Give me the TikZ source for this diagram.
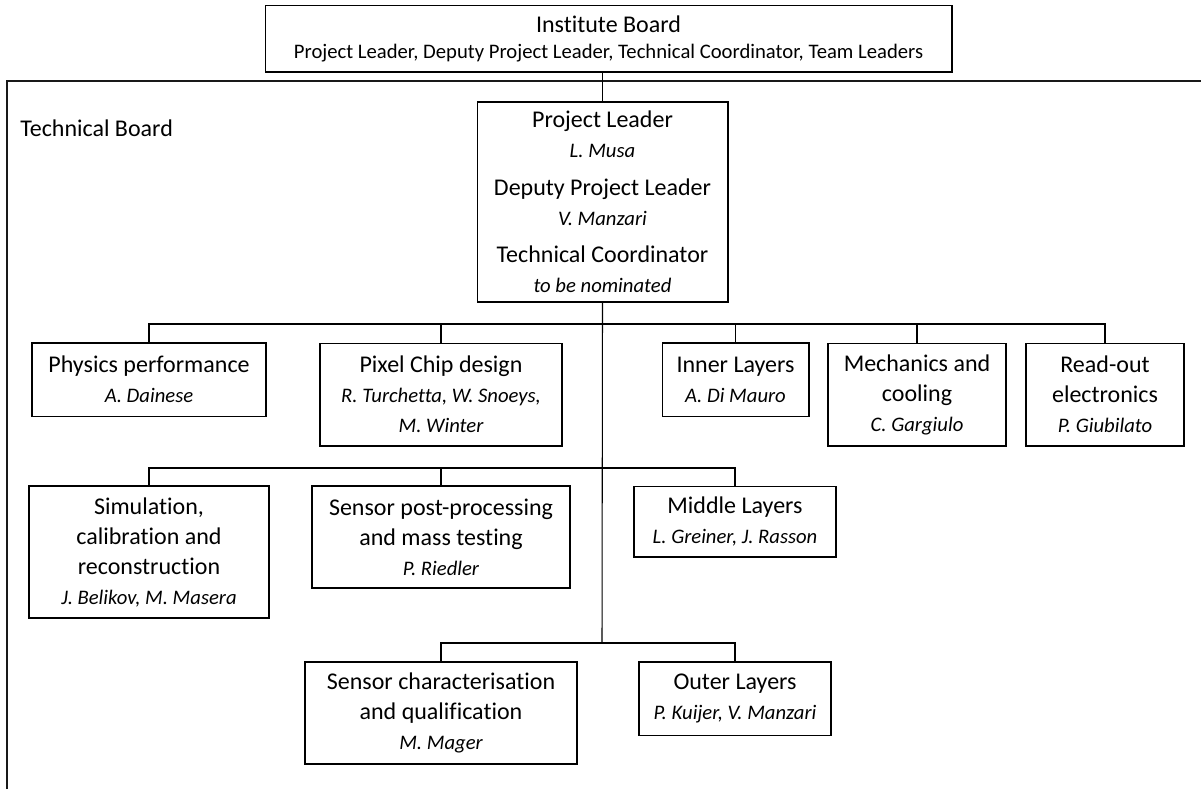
\documentclass[tikz,border=0pt]{standalone}
\usepackage{fontspec}
\setmainfont{Carlito}[Ligatures=NoCommon]
\usepackage{tikz}
\usetikzlibrary{positioning}

\newcommand{\member}[1]{{\fontsize{15.5}{22.5}\selectfont\itshape #1}}

\begin{document}
\begin{tikzpicture}[
  x=0.75pt, y=-0.75pt,
  unit/.style={draw,line width=1pt,inner sep=0pt,align=center,font=\fontsize{18}{22.5}\selectfont},
  link/.style={line width=0.8pt},
  frame/.style={line width=1.5pt,black!90}
]
  \useasboundingbox (0,0) rectangle (1201,789);

  \node[unit,minimum width=515pt,minimum height=50pt] (ib) at (608.5,38.5)
    {Institute Board\\[-3pt]{\fontsize{15.5}{19.5}\selectfont Project Leader, Deputy Project Leader, Technical Coordinator, Team Leaders}};
  \draw[frame] (6.5,789) -- (6.5,80.5) -- (1201,80.5);
  \node[anchor=west,inner sep=0pt,font=\fontsize{18}{22.5}\selectfont] (tb) at (20,128) {Technical Board};

  \node[unit,minimum width=188pt,minimum height=150pt] (pl) at (602.5,202)
    {Project Leader\\\member{L. Musa}\\[5.5pt]Deputy Project Leader\\\member{V. Manzari}\\[5.5pt]Technical Coordinator\\\member{to be nominated}};

  \node[unit,minimum width=175.5pt,minimum height=55pt] (phys) at (149,379.5) {Physics performance\\\member{A. Dainese}};
  \node[unit,minimum width=181.5pt,minimum height=77pt] (pix) at (441,394.5) {Pixel Chip design\\\member{R. Turchetta, W. Snoeys,}\\\member{M. Winter}};
  \node[unit,minimum width=110pt,minimum height=55pt] (inner) at (735.5,379.5) {Inner Layers\\\member{A. Di Mauro}};
  \node[unit,minimum width=133.5pt,minimum height=77pt] (mech) at (917,394.5) {Mechanics and\\cooling\\\member{C. Gargiulo}};
  \node[unit,minimum width=118.5pt,minimum height=77pt] (rdo) at (1105,394.5) {Read-out\\electronics\\\member{P. Giubilato}};

  \node[unit,minimum width=180pt,minimum height=99pt] (sim) at (149,552) {Simulation,\\calibration and\\reconstruction\\\member{J. Belikov, M. Masera}};
  \node[unit,minimum width=193.5pt,minimum height=76.5pt] (spp) at (441,537) {Sensor post-processing\\and mass testing\\\member{P. Riedler}};
  \node[unit,minimum width=151.5pt,minimum height=53pt] (mid) at (735,521.5) {Middle Layers\\\member{L. Greiner, J. Rasson}};

  \node[unit,minimum width=204pt,minimum height=76.5pt] (sch) at (441,713) {Sensor characterisation\\and qualification\\\member{M. Mager}};
  \node[unit,minimum width=144pt,minimum height=55pt] (outer) at (735,698.5) {Outer Layers\\\member{P. Kuijer, V. Manzari}};

  \coordinate (bus1) at (602,324);
  \coordinate (bus2) at (602,468);
  \coordinate (bus3) at (602,643);

  \draw[link] (pl.north) -- (pl.north |- ib.south);
  \draw[link] (pl.south) -- (bus3);
  \draw[link] (phys.north) |- (bus1) -| (rdo.north);
  \foreach \n in {pix,inner,mech}
    \draw[link] (\n.north) -- (\n.north |- bus1);
  \draw[link] (sim.north) |- (bus2) -| (mid.north);
  \draw[link] (spp.north) -- (spp.north |- bus2);
  \draw[link] (sch.north) |- (bus3) -| (outer.north);
\end{tikzpicture}
\end{document}
